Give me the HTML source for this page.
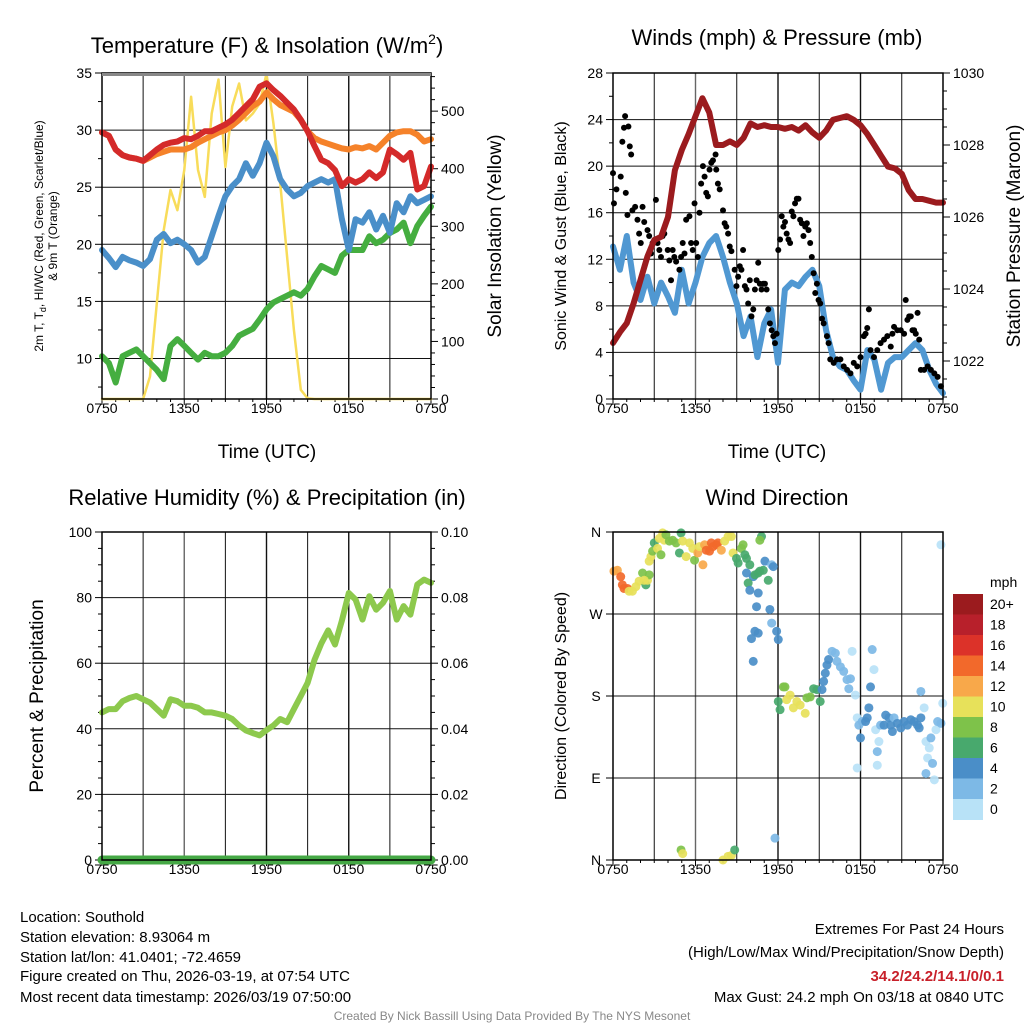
<!DOCTYPE html>
<html><head><meta charset="utf-8">
<style>
html,body{margin:0;padding:0;background:#fff;}
svg{display:block;font-family:"Liberation Sans",Arial,sans-serif;}
</style></head>
<body>
<svg id="chart" width="1024" height="1024" viewBox="0 0 1024 1024" xmlns="http://www.w3.org/2000/svg">
<rect width="1024" height="1024" fill="#fff"/>
<g font-size="22" text-anchor="middle" fill="#000">
<text x="267" y="53">Temperature (F) &amp; Insolation (W/m<tspan font-size="14" dy="-9">2</tspan><tspan dy="9">)</tspan></text>
<text x="777" y="45">Winds (mph) &amp; Pressure (mb)</text>
<text x="267" y="505">Relative Humidity (%) &amp; Precipitation (in)</text>
<text x="777" y="505">Wind Direction</text>
</g>
<g font-size="19" text-anchor="middle">
<text x="267" y="458">Time (UTC)</text>
<text x="777" y="458">Time (UTC)</text>
<text transform="translate(501,236) rotate(-90)">Solar Insolation (Yellow)</text>
<text transform="translate(1020,236) rotate(-90)">Station Pressure (Maroon)</text>
<text transform="translate(43,696) rotate(-90)">Percent &amp; Precipitation</text>
</g>
<g font-size="16" text-anchor="middle">
<text transform="translate(566,236) rotate(-90)">Sonic Wind &amp; Gust (Blue, Black)</text>
<text transform="translate(566,696) rotate(-90)">Direction (Colored By Speed)</text>
</g>
<g font-size="12" text-anchor="middle">
<text transform="translate(43,236) rotate(-90)">2m T, T<tspan font-size="9" dy="3">d</tspan><tspan dy="-3">, HI/WC (Red, Green, Scarlet/Blue)</tspan></text>
<text transform="translate(57,236) rotate(-90)">&amp; 9m T (Orange)</text>
</g>
<g font-size="15" fill="#000">
<text x="20" y="922">Location: Southold</text>
<text x="20" y="942">Station elevation: 8.93064 m</text>
<text x="20" y="962">Station lat/lon: 41.0401; -72.4659</text>
<text x="20" y="981">Figure created on Thu, 2026-03-19, at 07:54 UTC</text>
<text x="20" y="1002">Most recent data timestamp: 2026/03/19 07:50:00</text>
</g>
<g font-size="15" text-anchor="end">
<text x="1004" y="934">Extremes For Past 24 Hours</text>
<text x="1004" y="957">(High/Low/Max Wind/Precipitation/Snow Depth)</text>
<text x="1004" y="981" fill="#C8202A" font-weight="bold">34.2/24.2/14.1/0/0.1</text>
<text x="1004" y="1002">Max Gust: 24.2 mph On 03/18 at 0840 UTC</text>
</g>
<text x="512" y="1020" font-size="12" fill="#888" text-anchor="middle">Created By Nick Bassill Using Data Provided By The NYS Mesonet</text>
</svg>
<script>
// ---- data (time every 0.5 h from 0750 UTC) ----
const timeLabels = ["0750","1350","1950","0150","0750"];
const tempRed = [29.8,29.5,28.3,27.8,27.6,27.5,27.3,27.8,28.3,28.7,28.9,29.0,29.3,29.2,29.5,29.9,29.9,30.2,30.5,30.9,31.5,32.1,32.7,33.8,34.1,33.5,33.0,32.4,31.8,30.9,29.9,28.6,27.4,27.1,26.5,25.1,25.7,25.4,25.7,26.3,25.8,26.3,28.3,27.9,27.4,28.0,24.8,25.1,26.8];
const temp9m = [29.8,29.5,28.3,27.8,27.6,27.5,27.3,27.6,27.9,28.1,28.3,28.3,28.3,28.5,28.9,29.2,29.5,29.8,30.0,30.4,30.9,31.5,32.1,32.5,33.3,32.7,32.2,31.9,31.6,30.9,29.9,29.3,29.0,28.8,28.6,28.4,28.3,28.5,28.4,28.6,28.3,28.9,29.5,29.8,29.9,29.9,29.6,29.0,29.2];
const dewpoint = [19.5,18.8,18.0,18.9,18.6,18.4,18.1,18.7,20.4,20.9,20.1,20.4,20.0,19.5,18.4,18.9,20.7,22.5,24.2,25.1,25.7,27.1,26.0,27.1,28.9,27.7,25.7,24.8,24.2,24.5,25.1,25.4,25.7,25.4,25.7,22.2,19.5,22.2,21.9,22.8,21.3,22.5,21.0,23.6,22.8,24.2,23.6,23.9,24.2];
const windChill = [10.2,9.6,7.9,10.2,10.5,10.8,10.2,9.6,9.0,8.2,11.1,11.7,11.1,10.5,9.9,10.5,10.2,10.2,10.5,11.1,12.0,12.3,12.6,13.4,14.3,14.9,15.2,15.5,15.8,15.5,16.1,17.2,18.1,17.8,17.5,19.0,19.5,19.5,19.5,20.7,20.1,20.4,21.0,21.3,21.9,20.1,21.6,22.5,23.3];
const solar = [0,0,0,0,0,0,0,39,166,293,363,328,398,525,398,351,496,555,403,508,548,484,496,513,565,479,375,247,120,16,1,0,0,0,0,0,0,0,0,0,0,0,0,0,0,0,0,0,0];
const pressure = [1022.5,1022.8,1023.05,1023.6,1024.25,1024.9,1025.36,1025.45,1026.0,1027.3,1027.86,1028.3,1028.8,1029.3,1028.9,1028.0,1028.0,1028.1,1028.0,1028.2,1028.6,1028.5,1028.55,1028.5,1028.5,1028.45,1028.5,1028.4,1028.55,1028.35,1028.2,1028.4,1028.7,1028.75,1028.8,1028.7,1028.55,1028.3,1028.0,1027.7,1027.4,1027.35,1027.2,1026.75,1026.5,1026.5,1026.45,1026.4,1026.4];
const windSpeed = [13.1,11.1,14.0,10.0,8.5,10.5,8.2,10.0,8.8,7.4,11.1,8.2,10.0,12.2,13.4,14.0,12.2,10.0,8.2,5.4,7.1,3.6,6.5,7.7,3.1,9.4,10.0,9.7,10.5,11.1,9.7,5.9,3.6,2.8,2.5,1.6,0.8,4.2,3.4,0.8,3.1,3.6,3.6,4.2,4.8,4.2,2.5,1.3,0.5];
const humidity = [45,46,46,48.4,49.4,50,49,48,46,44,49,48.4,47,47,46.4,45,45,44.5,44,43,41,39.5,38.7,38,39.6,41,43,42,46,50,54,61,66,70,65.7,73,81.4,79.4,73.3,80.4,76.3,78.4,82,73.3,77.4,74.8,84,85.5,84.5];
const precip = [0,0,0,0,0,0,0,0,0,0,0,0,0,0,0,0,0,0,0,0,0,0,0,0,0,0,0,0,0,0,0,0,0,0,0,0,0,0,0,0,0,0,0,0,0,0,0,0,0];
const gustTime = [0,0.07,0.25,0.56,0.68,0.8,0.88,1.12,1.22,1.32,0.93,1.05,1.41,1.61,1.78,1.9,2.02,2.15,2.27,2.51,2.63,2.76,2.88,3.12,3.24,3.37,3.49,3.61,3.73,3.98,4.1,4.22,4.34,4.46,4.59,4.83,4.95,5.07,5.2,5.32,5.56,5.68,5.8,5.93,6.05,6.17,6.29,6.41,6.54,6.66,6.78,6.9,7.02,7.15,7.27,7.46,7.51,7.63,7.76,8.0,8.12,8.24,8.37,8.49,8.61,8.85,8.98,9.1,9.22,9.34,9.46,9.59,9.71,9.83,9.95,10.07,10.2,10.32,10.44,10.56,10.68,10.8,10.93,11.05,11.17,11.29,11.41,11.54,11.66,11.78,11.9,12.02,12.15,12.27,12.39,12.51,12.63,12.76,12.88,13.0,13.12,13.24,13.37,13.49,13.61,13.73,13.85,13.98,14.1,14.22,14.34,14.46,14.59,14.71,14.83,14.95,15.07,15.2,15.32,15.56,15.68,15.8,16.05,16.29,16.54,16.78,17.02,17.27,17.51,17.76,18.0,18.24,18.37,18.49,18.61,18.73,18.98,19.22,19.46,19.71,19.95,20.2,20.32,20.44,20.68,20.93,21.17,21.29,21.41,21.54,21.66,21.78,21.9,22.02,22.15,22.27,22.39,22.63,22.88,23.12,23.37,23.61,23.85];
const gustSpeed = [19.4,16.8,18.0,19.1,22.1,23.3,24.3,23.4,21.7,21.0,17.7,15.8,16.2,16.5,15.4,14.2,13.4,16.5,15.2,14.5,14.0,12.5,13.4,17.1,13.4,12.8,12.2,14.0,14.2,12.8,11.9,10.2,12.8,12.2,11.8,11.1,12.2,13.4,12.5,15.4,15.7,13.4,12.8,16.8,13.4,12.2,16.0,18.5,20.0,19.1,17.7,17.4,19.7,20.3,20.5,21.0,19.7,18.5,18.0,16.2,15.1,14.8,14.2,13.1,12.7,11.1,9.7,10.5,11.4,11.1,12.8,9.7,9.4,8.2,10.2,7.1,7.7,9.4,10.2,11.7,9.9,9.4,9.9,9.9,9.4,7.7,6.5,5.9,5.4,4.8,5.6,12.8,13.7,15.7,14.8,15.2,14.2,13.7,13.4,16.1,15.7,16.8,17.2,17.2,15.4,15.1,14.0,14.8,15.1,14.5,13.4,12.2,10.8,9.1,9.9,8.5,8.2,6.9,6.5,5.4,4.8,3.4,3.1,3.4,3.4,2.8,2.5,2.2,3.1,2.8,3.6,5.4,5.6,6.1,7.7,4.2,3.6,4.2,4.8,5.1,5.4,4.5,5.6,6.2,5.9,5.9,5.6,8.5,6.8,7.1,7.1,5.9,5.9,5.6,7.4,5.1,2.5,2.5,2.8,2.5,2.2,1.9,1.1];
const dirTime = [0.07,0.32,0.56,0.68,0.8,1.05,1.17,1.41,1.66,1.9,2.15,2.39,2.51,2.63,2.27,2.63,2.76,2.88,3.0,3.24,3.37,3.49,3.61,3.73,3.85,4.1,4.34,4.59,4.83,4.95,5.07,5.32,5.56,5.8,5.93,6.17,6.29,6.54,6.66,6.78,7.02,7.15,7.27,7.51,7.63,7.88,8.12,8.37,8.61,8.73,8.98,9.1,9.34,9.46,9.59,9.71,9.95,10.2,9.71,9.83,9.95,10.32,10.56,10.68,10.93,11.05,11.29,11.54,11.66,10.8,10.68,10.56,10.44,11.41,11.54,10.32,10.07,10.56,11.9,12.02,10.2,11.78,4.95,5.07,8.0,8.37,8.61,8.85,12.02,12.15,12.39,12.51,12.63,12.88,13.12,13.37,13.61,13.98,14.1,14.34,14.59,14.83,15.07,15.2,15.32,15.44,15.56,15.68,15.93,16.17,16.29,16.54,16.78,17.02,17.15,17.27,17.39,17.63,17.76,17.88,18.0,18.12,18.37,18.49,18.61,18.73,18.85,18.98,19.1,19.22,19.22,19.34,19.46,19.71,19.83,20.07,20.2,20.32,20.44,20.68,20.93,21.17,21.41,21.66,21.9,22.15,22.27,22.39,22.39,22.63,22.76,22.88,23.0,23.12,23.24,23.37,23.49,23.61,23.85,23.98,23.85,17.76,22.76];
const dirDeg = [317,318,311,302,298,298,295,295,300,306,315,302,307,313,307,328,333,339,348,342,353,335,359,351,357,350,351,348,337,359,350,333,348,342,329,337,344,324,346,340,339,348,344,346,348,340,350,355,355,337,331,326,342,346,335,331,324,311,315,304,296,313,315,317,318,328,307,324,322,355,351,293,278,275,260,251,243,249,251,242,218,24,11,7,0,4,5,11,174,165,190,190,176,181,167,174,170,161,178,179,188,187,174,187,196,205,214,220,229,227,218,212,207,198,188,199,229,181,156,148,134,152,152,156,167,190,231,209,143,119,104,130,148,148,159,156,148,141,156,150,145,152,148,154,152,148,145,156,185,167,130,112,123,134,106,88,143,152,150,172,346,101,95];
const dirSpeed = [12,12,14,14,14,14,10,10,10,10,8,6,10,8,10,10,10,8,6,10,10,8,10,10,8,8,8,8,6,6,10,10,10,10,8,12,10,12,12,14,14,14,14,14,14,12,10,10,10,10,6,6,8,8,6,6,6,4,4,6,4,6,6,6,6,4,6,2,4,6,8,4,4,4,2,4,4,4,4,4,4,2,8,10,10,10,10,6,6,6,8,8,10,10,10,10,10,10,8,8,6,6,6,4,4,4,4,4,2,2,2,2,2,2,2,2,0,0,0,2,4,2,4,4,4,4,2,0,0,2,0,0,2,4,4,4,4,4,2,4,4,4,4,4,4,4,4,4,2,0,0,0,0,2,2,0,0,2,2,0,0,0,2,0];
const speedLabels = ["20+","18","16","14","12","10","8","6","4","2","0"];
const speedColors = ["#9B1B1E","#B8202B","#DC3229","#F2692B","#F8A84A","#E7E15A","#7EC24A","#48A96D","#4A8EC8","#7DB9E6","#B8E2F7"];

// ---- helpers ----
const NS = "http://www.w3.org/2000/svg";
const svg = document.getElementById("chart");
function add(parent, tag, attrs, name) {
  const el = document.createElementNS(NS, tag);
  for (const k in attrs) el.setAttribute(k, attrs[k]);
  
  
  parent.appendChild(el);
  return el;
}
function group(name) {
  const g = document.createElementNS(NS, "g");
  
  
  svg.appendChild(g);
  return g;
}
const L = [102, 613], R = [431, 943], T = [73, 532], B = [399, 860];
function xScale(col, h) { return L[col] + h / 24 * (R[col] - L[col]); }
function yLin(row, v, v0, v1) { return B[row] - (v - v0) / (v1 - v0) * (B[row] - T[row]); }
function halfHour(i) { return i * 0.5; }

function frame(col, row, name) {
  const g = group(name);
  for (let h = 3; h < 24; h += 3) {
    const x = xScale(col, h);
    add(g, "line", {x1:x, x2:x, y1:T[row], y2:B[row], stroke:(h%6===0 && h!==12 && h!==18 ? "#666" : "#111"), "stroke-width": (h%6===0 ? 1.4 : 1)}, "vertical-gridline");
  }
  for (let h = 0; h <= 24; h++) {
    const x = xScale(col, h);
    add(g, "line", {x1:x, x2:x, y1:B[row], y2:B[row] + (h % 6 === 0 ? 6 : 3), stroke:"#000"}, "x-tick");
  }
  timeLabels.forEach((lab, i) => {
    const t = add(g, "text", {x:xScale(col, i * 6), y:B[row] + 14, "font-size":14, "text-anchor":"middle"}, "x-tick-label");
    t.textContent = lab;
  });
  return g;
}
function labelsAt(g, col, row, side, values, v0, v1, fmt, grid) {
  const x = side === "left" ? L[col] - 10 : R[col] + 10;
  values.forEach(v => {
    const y = yLin(row, v, v0, v1);
    if (grid) add(g, "line", {x1:L[col], x2:R[col], y1:y, y2:y, stroke:"#111"}, "horizontal-gridline");
    const t = add(g, "text", {x:x, y:y + 5, "font-size":14, "text-anchor": side === "left" ? "end" : "start"}, side + "-tick-label");
    t.textContent = fmt(v);
  });
}
function border(g, col, row) {
  add(g, "rect", {x:L[col], y:T[row], width:R[col]-L[col], height:B[row]-T[row], fill:"none", stroke:"#000", "stroke-width":1.5}, "plot-frame");
}
function path(g, vals, col, row, v0, v1, color, w, name) {
  const d = vals.map((v, i) => (i ? "L" : "M") + xScale(col, halfHour(i)).toFixed(1) + "," + yLin(row, v, v0, v1).toFixed(1)).join("");
  add(g, "path", {d:d, fill:"none", stroke:color, "stroke-width":w, "stroke-linejoin":"round", "stroke-linecap":"round"}, name);
}

// ---- Panel 1: temperature ----
const TMIN = 35 - 326 / 11.42, TMAX = 35;
const SMAX = 326 / 0.5757;
const g1 = frame(0, 0, "temperature-panel");
labelsAt(g1, 0, 0, "left", [10,15,20,25,30,35], TMIN, TMAX, v => v, true);
labelsAt(g1, 0, 0, "right", [0,100,200,300,400,500], 0, SMAX, v => v, false);
for (let v = 7.5; v <= 35; v += 2.5) { const y = yLin(0, v, TMIN, TMAX); add(g1, "line", {x1:L[0], x2:L[0] - (v % 5 === 0 ? 7 : 4), y1:y, y2:y, stroke:"#000"}, "left-tick"); }
for (let v = 0; v <= 560; v += 20) { const y = yLin(0, v, 0, SMAX); add(g1, "line", {x1:R[0], x2:R[0] + (v % 100 === 0 ? 7 : 4), y1:y, y2:y, stroke:"#000"}, "right-tick"); }
path(g1, solar, 0, 0, 0, SMAX, "#F8DC5A", 2.5, "solar-insolation-line");
path(g1, windChill, 0, 0, TMIN, TMAX, "#45AE40", 6, "wind-chill-line");
path(g1, dewpoint, 0, 0, TMIN, TMAX, "#4A8FC9", 6, "dewpoint-line");
path(g1, temp9m, 0, 0, TMIN, TMAX, "#F5822A", 6, "temp-9m-line");
path(g1, tempRed, 0, 0, TMIN, TMAX, "#D42A2A", 6, "temp-2m-line");
border(g1, 0, 0);
add(g1, "line", {x1:L[0], x2:R[0], y1:74.5, y2:74.5, stroke:"#888", "stroke-width":3}, "top-frame-line");

// ---- Panel 2: winds & pressure ----
const WMAX = 28, PMIN = 1030 - 326 / 36, PMAX = 1030;
const g2 = frame(1, 0, "winds-panel");
labelsAt(g2, 1, 0, "left", [0,4,8,12,16,20,24,28], 0, WMAX, v => v, true);
labelsAt(g2, 1, 0, "right", [1022,1024,1026,1028,1030], PMIN, PMAX, v => v, false);
for (let v = 0; v <= 28; v += 2) { const y = yLin(0, v, 0, WMAX); add(g2, "line", {x1:L[1], x2:L[1] - (v % 4 === 0 ? 7 : 4), y1:y, y2:y, stroke:"#000"}, "left-tick"); }
for (let v = 1021; v <= 1030; v += 0.5) { const y = yLin(0, v, PMIN, PMAX); add(g2, "line", {x1:R[1], x2:R[1] + (v % 2 === 0 ? 7 : 4), y1:y, y2:y, stroke:"#000"}, "right-tick"); }
path(g2, windSpeed, 1, 0, 0, WMAX, "#5098D2", 6, "sonic-wind-line");
gustTime.forEach((t, i) => {
  add(g2, "circle", {cx:xScale(1, t), cy:yLin(0, gustSpeed[i], 0, WMAX), r:3, fill:"#000"}, "gust-point");
});
path(g2, pressure, 1, 0, PMIN, PMAX, "#9B1B1E", 6, "pressure-line");
border(g2, 1, 0);

// ---- Panel 3: humidity ----
const g3 = frame(0, 1, "humidity-panel");
labelsAt(g3, 0, 1, "left", [0,20,40,60,80,100], 0, 100, v => v, true);
labelsAt(g3, 0, 1, "right", [0,0.02,0.04,0.06,0.08,0.1], 0, 0.1, v => v.toFixed(2), false);
for (let v = 0; v <= 100; v += 5) { const y = yLin(1, v, 0, 100); add(g3, "line", {x1:L[0], x2:L[0] - (v % 20 === 0 ? 7 : 4), y1:y, y2:y, stroke:"#000"}, "left-tick"); }
for (let v = 0; v <= 100; v += 5) { const y = yLin(1, v, 0, 100); add(g3, "line", {x1:R[0], x2:R[0] + (v % 20 === 0 ? 7 : 4), y1:y, y2:y, stroke:"#000"}, "right-tick"); }
path(g3, humidity, 0, 1, 0, 100, "#8DC94D", 6, "humidity-line");
path(g3, precip, 0, 1, 0, 0.1, "#45A845", 9, "precipitation-line");
border(g3, 0, 1);

// ---- Panel 4: wind direction ----
const g4 = frame(1, 1, "wind-direction-panel");
const dirLabels = ["N","E","S","W","N"];
dirLabels.forEach((lab, i) => {
  const y = yLin(1, i * 90, 0, 360);
  add(g4, "line", {x1:L[1], x2:R[1], y1:y, y2:y, stroke:"#111"}, "horizontal-gridline");
  add(g4, "line", {x1:L[1], x2:L[1] - 7, y1:y, y2:y, stroke:"#000"}, "left-tick");
  const t = add(g4, "text", {x:L[1] - 17, y:y + 5, "font-size":14, "text-anchor":"middle"}, "direction-label");
  t.textContent = lab;
});
function speedColor(s) { const idx = Math.max(0, Math.min(10, 10 - Math.floor(s / 2))); return speedColors[idx]; }
dirTime.forEach((t, i) => {
  add(g4, "circle", {cx:xScale(1, t), cy:yLin(1, dirDeg[i], 0, 360), r:4.5, fill:speedColor(dirSpeed[i]), "fill-opacity":0.92}, "direction-point");
});
border(g4, 1, 1);

// ---- colorbar ----
const gc = group("speed-colorbar");
const cbTop = 594, cbH = 20.5;
speedLabels.forEach((lab, i) => {
  add(gc, "rect", {x:953, y:cbTop + i * cbH, width:30, height:cbH + 0.5, fill:speedColors[i]}, "colorbar-swatch");
  const t = add(gc, "text", {x:990, y:cbTop + i * cbH + 15, "font-size":14}, "colorbar-label");
  t.textContent = lab;
});
const cbt = add(gc, "text", {x:990, y:587, "font-size":14}, "colorbar-unit");
cbt.textContent = "mph";
</script>
</body></html>
